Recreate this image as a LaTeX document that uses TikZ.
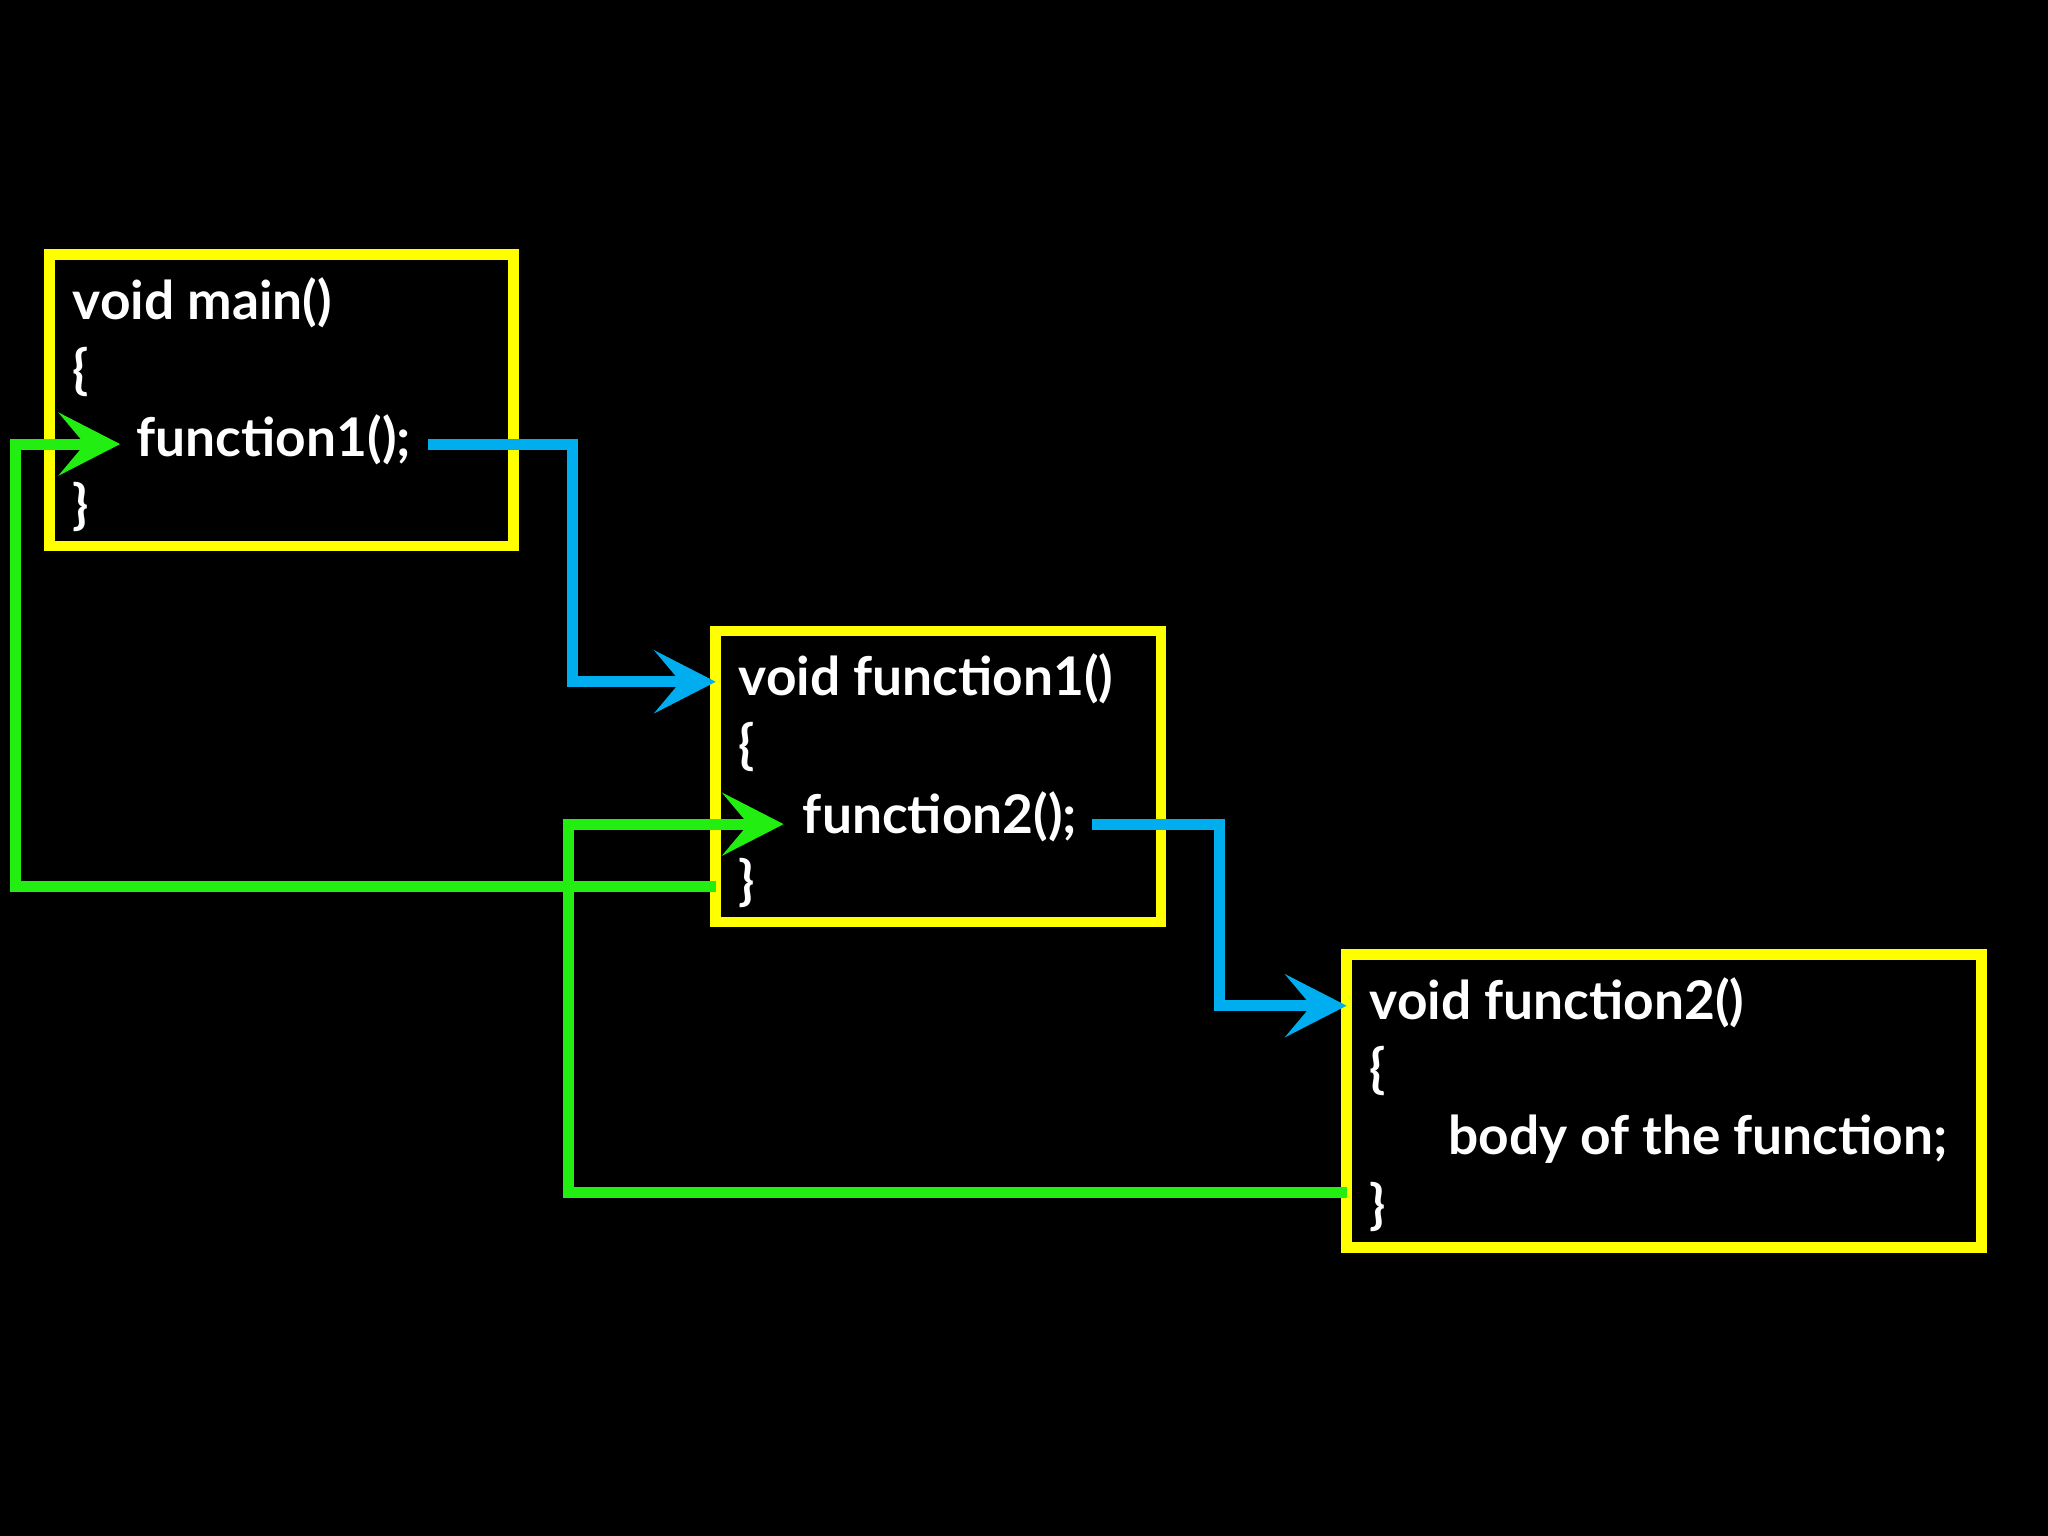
\documentclass[tikz,border=0pt]{standalone}
\usepackage{fontspec}
\setmainfont{Lato}
\usetikzlibrary{arrows.meta}
\definecolor{yel}{HTML}{FFFF00}
\definecolor{blu}{HTML}{00AEEF}
\definecolor{grn}{HTML}{22EE11}
\begin{document}
\begin{tikzpicture}[x=0.01cm,y=-0.01cm,
  box/.style={draw=yel,line width=2.3pt},
  code/.style={anchor=west,text=white,font=\bfseries\fontsize{11.6}{14}\selectfont,inner sep=0pt},
  call/.style={line width=2.4pt,-{Stealth[length=0.47cm,width=0.48cm,inset=0.2cm]}},
  blue/.style={call,draw=blu},
  green/.style={call,draw=grn}]
\fill[black] (0,0) rectangle (1568,1176);
\draw[box] (38,195) rectangle (393,418);
\draw[box] (548,483) rectangle (889,706);
\draw[box] (1031,731) rectangle (1517,955);
\node[code] (m1) at (55,232) {void main()};
\node[code] (m2) at (55,285) {\{};
\node[code] (m3) at (104,337) {function1();};
\node[code] (m4) at (55,388) {\}};
\node[code] (a1) at (565,520) {void function1()};
\node[code] (a2) at (565,572) {\{};
\node[code] (a3) at (614,625) {function2();};
\node[code] (a4) at (565,676) {\}};
\node[code] (b1) at (1048,768) {void function2()};
\node[code] (b2) at (1048,820) {\{};
\node[code] (b3) at (1108,872) {body of the function;};
\node[code] (b4) at (1048,924) {\}};
\coordinate (s1) at (328,340);
\coordinate (t1) at (548,522);
\coordinate (s2) at (836,631);
\coordinate (t2) at (1031,770);
\coordinate (r1) at (548,679);
\coordinate (u1) at (92,340);
\coordinate (r2) at (1031,913);
\coordinate (u2) at (600,631);
\draw[blue] (s1) -- (438,340) -- (438,522) -- (t1);
\draw[blue] (s2) -- (934,631) -- (934,770) -- (t2);
\draw[green] (r1) -- (12,679) -- (12,340) -- (u1);
\draw[green] (r2) -- (435,913) -- (435,631) -- (u2);
\end{tikzpicture}
\end{document}
